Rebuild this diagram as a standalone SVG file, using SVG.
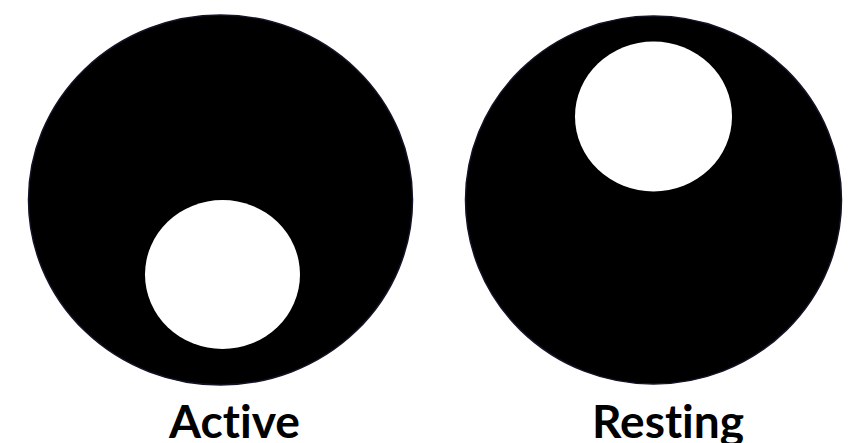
<svg xmlns="http://www.w3.org/2000/svg" width="851" height="443" viewBox="0 0 851 443">
<style>
.outer{fill:#000;stroke:#141428;stroke-width:1.5}
.inner{fill:#fff}
.lbl{font-family:Lato,"Noto Sans","Liberation Sans",sans-serif;font-weight:bold;font-size:45px;fill:#000;font-variant-ligatures:none;font-feature-settings:"liga" 0,"clig" 0}
</style>
<rect width="851" height="443" fill="#fff"/>
<g id="active">
<ellipse class="outer" cx="220.5" cy="200" rx="192" ry="185"/>
<ellipse class="inner" cx="222.5" cy="274.5" rx="77.5" ry="74.5"/>
<text class="lbl" x="169" y="438" textLength="131" lengthAdjust="spacingAndGlyphs">Active</text>
</g>
<g id="resting">
<ellipse class="outer" cx="653.5" cy="200" rx="188" ry="184"/>
<ellipse class="inner" cx="653.5" cy="116.5" rx="78.5" ry="75"/>
<text class="lbl" x="592" y="438" textLength="152" lengthAdjust="spacingAndGlyphs">Resting</text>
</g>
</svg>
